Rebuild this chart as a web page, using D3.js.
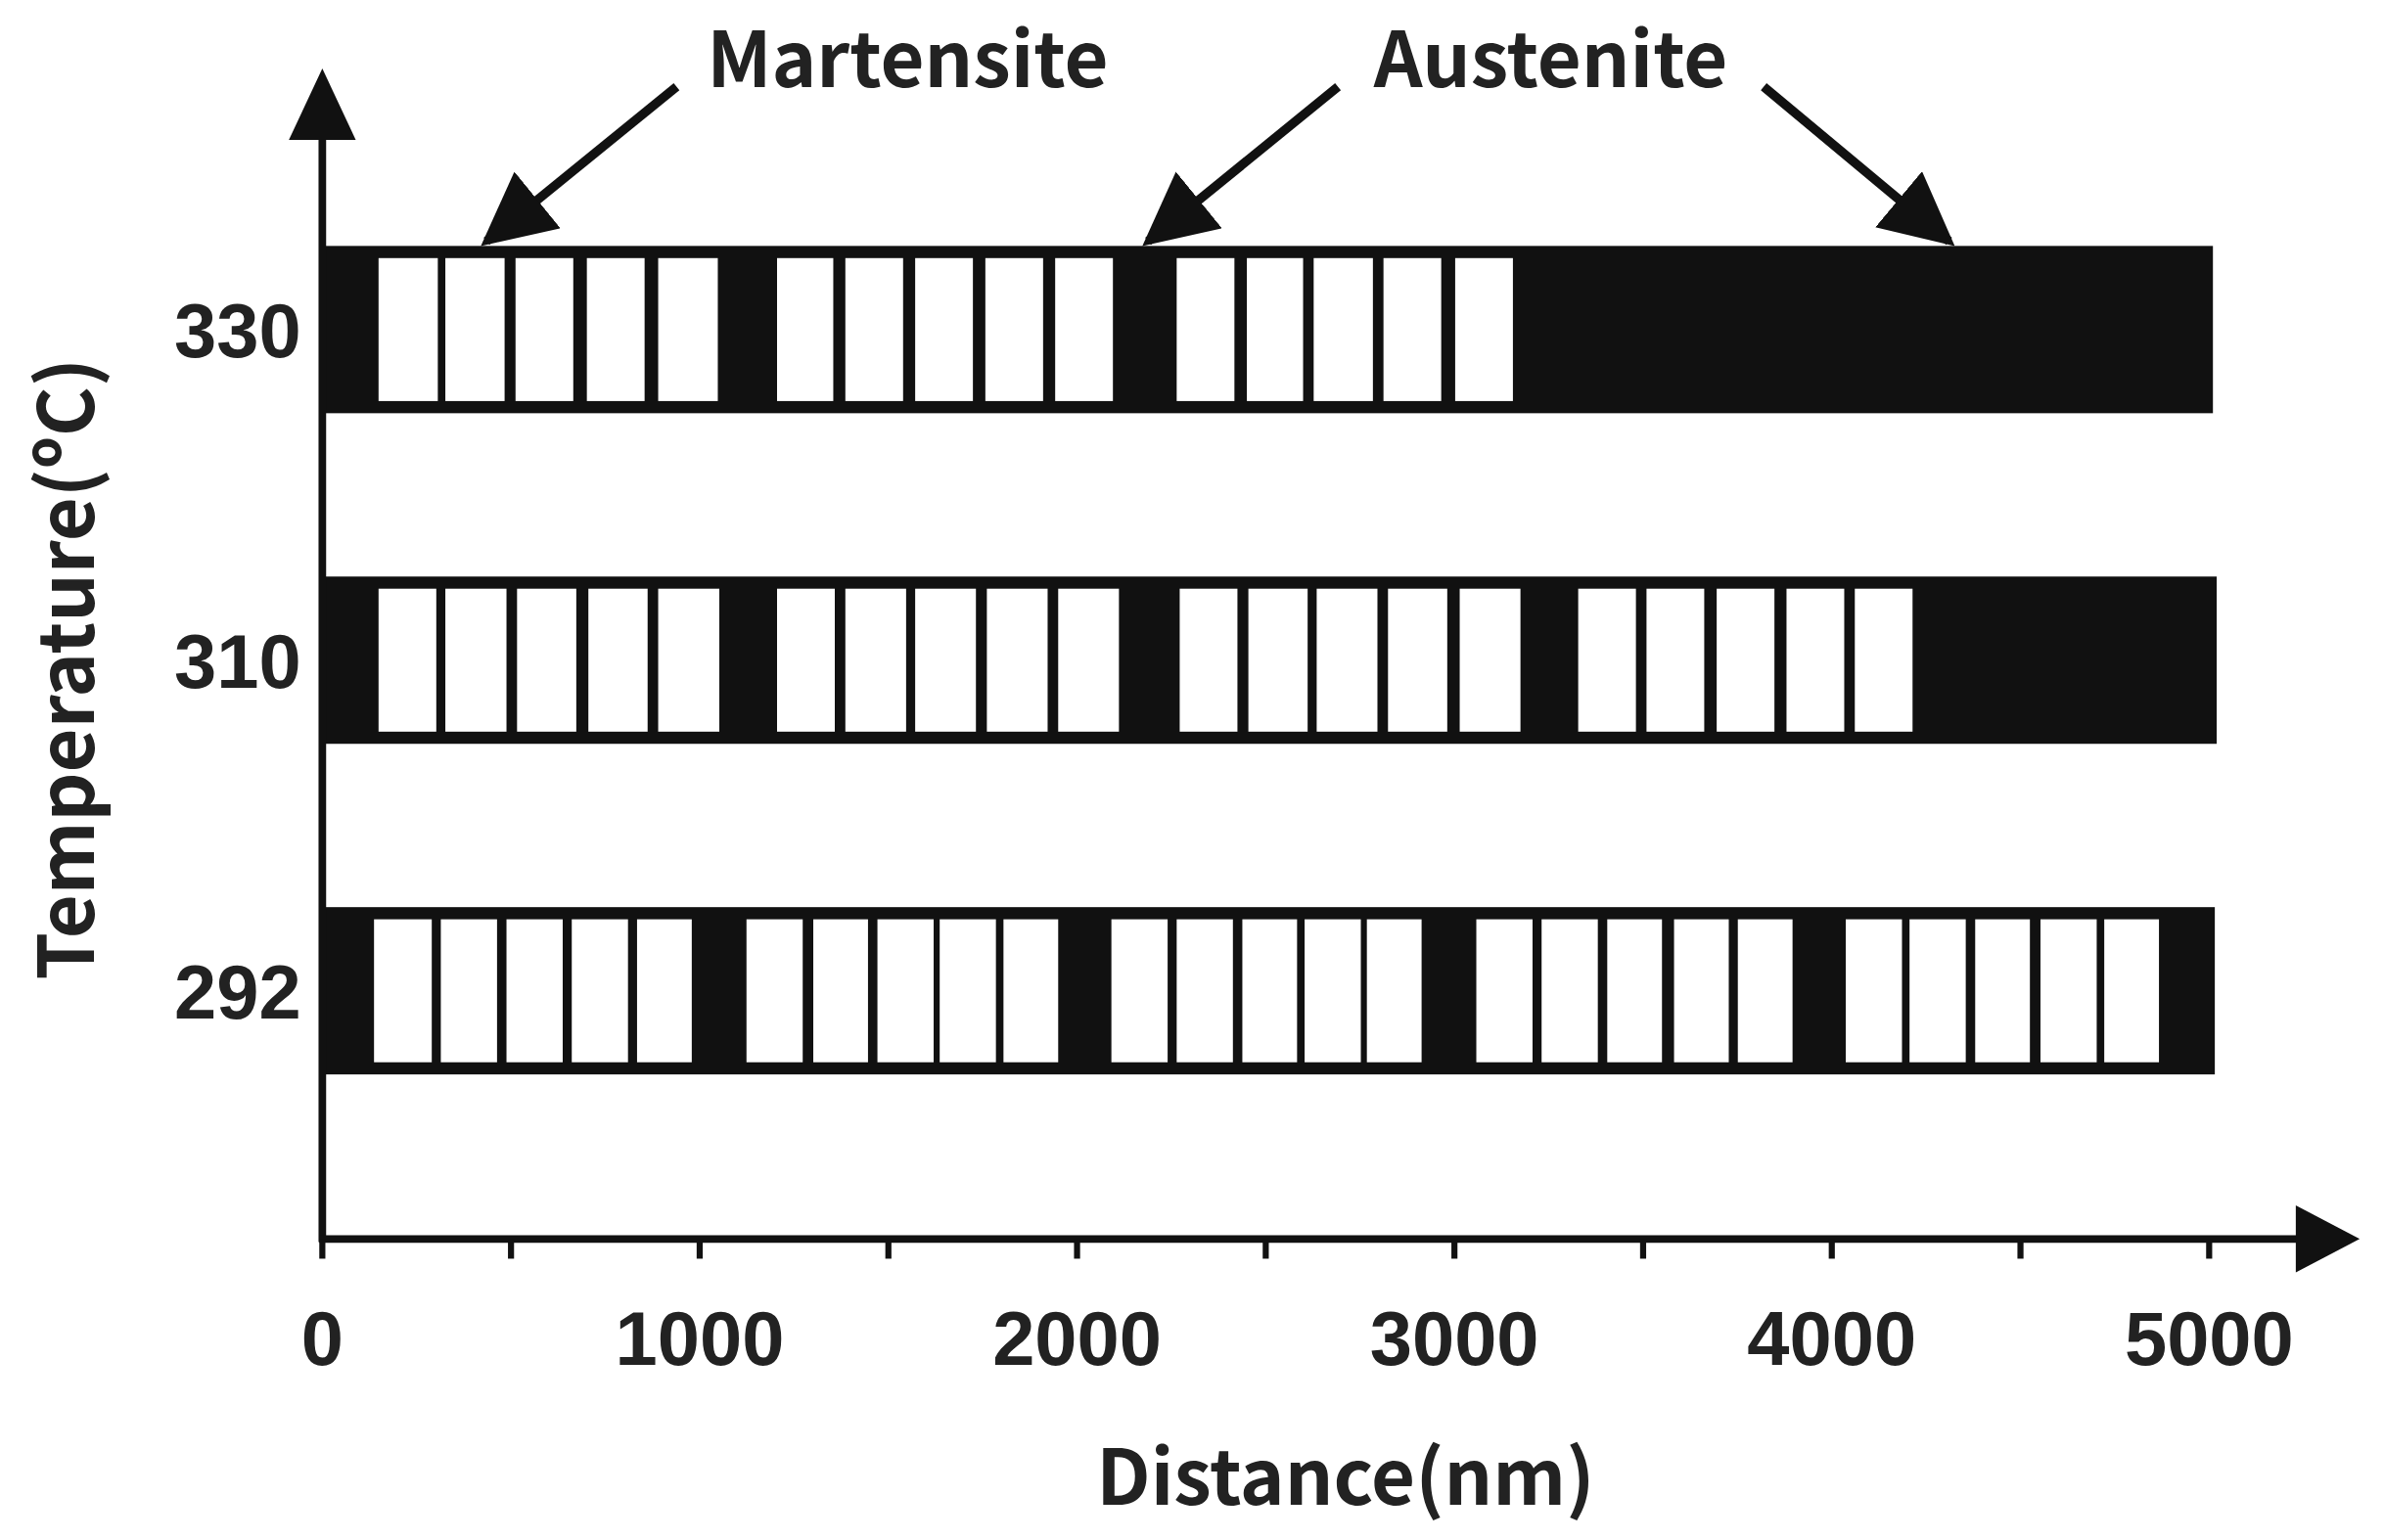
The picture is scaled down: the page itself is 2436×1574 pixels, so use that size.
<!DOCTYPE html>
<html>
<head>
<meta charset="utf-8">
<script src="https://cdn.jsdelivr.net/npm/d3@7"></script>
<style>
  html, body { margin: 0; padding: 0; background: #fff; }
  svg { display: block; }
</style>
</head>
<body>
<svg id="chart" width="2436" height="1574" viewBox="0 0 1568 1013"></svg>
<script>
// temperature rows, top to bottom
const temperatures = ['330', '310', '292']
// end of each dark bar (nm)
const barEnds = [5010, 5020, 5015]
// white (martensite) cells per row, [start, end] in nm
const cells330 = [
  [149, 306], [326, 483], [512, 665], [701, 854], [890, 1048],
  [1205, 1354], [1386, 1539], [1571, 1724], [1757, 1910], [1942, 2095],
  [2264, 2417], [2450, 2599], [2627, 2784], [2812, 2965], [3002, 3155]
]
const cells310 = [
  [149, 302], [326, 488], [516, 673], [705, 862], [890, 1052],
  [1205, 1358], [1386, 1547], [1571, 1732], [1761, 1922], [1950, 2111],
  [2272, 2425], [2454, 2611], [2635, 2796], [2824, 2981], [3014, 3175],
  [3328, 3481], [3509, 3662], [3695, 3848], [3880, 4033], [4061, 4214]
]
const cells292 = [
  [137, 290], [314, 463], [488, 637], [661, 810], [834, 979],
  [1124, 1273], [1301, 1446], [1471, 1620], [1636, 1785], [1805, 1950],
  [2091, 2240], [2264, 2413], [2438, 2583], [2603, 2752], [2768, 2913],
  [3058, 3207], [3231, 3380], [3405, 3550], [3582, 3727], [3751, 3896],
  [4037, 4186], [4206, 4355], [4380, 4525], [4553, 4702], [4722, 4867]
]
const cellRows = [cells330, cells310, cells292]
const xTicks = [0, 1000, 2000, 3000, 4000, 5000]
const xMinorTicks = [500, 1500, 2500, 3500, 4500]
// annotation labels and the x (nm) their arrows point at
const annotations = [
  { label: 'Martensite', from: [445, 57], to: 435 },
  { label: 'Austenite', from: [880, 57], to: 2188 },
  { label: 'Austenite', from: [1160, 57], to: 4311 }
]

const svg = d3.select('#chart')
const x = d3.scaleLinear().domain([0, 5000]).range([212, 1453])
const y = d3.scaleBand().domain(temperatures).range([108, 760.5]).paddingInner(0.494).paddingOuter(0.247)
const axisY = 815
const numFont = '"Liberation Sans", Arial, sans-serif'
const titleFont = '"Noto Sans CJK SC", "Noto Sans", sans-serif'

// dark bars
svg.selectAll('.bar')
  .data(temperatures)
  .join('rect')
  .attr('x', x(0))
  .attr('y', d => y(d))
  .attr('width', (d, i) => x(barEnds[i]) - x(0))
  .attr('height', y.bandwidth())
  .attr('fill', '#111')

// white cells
temperatures.forEach((t, i) => {
  svg.selectAll('.cell' + t)
    .data(cellRows[i])
    .join('rect')
    .attr('x', d => x(d[0]))
    .attr('y', y(t) + 8)
    .attr('width', d => x(d[1]) - x(d[0]))
    .attr('height', y.bandwidth() - 16)
    .attr('fill', '#fff')
})

// axes lines
svg.append('line').attr('x1', x(0)).attr('x2', x(0)).attr('y1', 80).attr('y2', axisY + 2)
  .attr('stroke', '#111').attr('stroke-width', 5)
svg.append('line').attr('x1', x(0) - 2).attr('x2', 1520).attr('y1', axisY).attr('y2', axisY)
  .attr('stroke', '#111').attr('stroke-width', 5)
svg.append('path').attr('d', `M${x(0)},45 L${x(0) - 22},92 L${x(0) + 22},92 Z`).attr('fill', '#111')
svg.append('path').attr('d', `M1552,${axisY} L1510,${axisY - 22} L1510,${axisY + 22} Z`).attr('fill', '#111')

// ticks
svg.selectAll('.tick')
  .data(xTicks.concat(xMinorTicks))
  .join('line')
  .attr('x1', d => x(d)).attr('x2', d => x(d))
  .attr('y1', axisY).attr('y2', axisY + 13)
  .attr('stroke', '#111').attr('stroke-width', 4)

svg.selectAll('.xlabel')
  .data(xTicks)
  .join('text')
  .attr('x', d => x(d))
  .attr('y', 898)
  .attr('text-anchor', 'middle')
  .attr('font-family', numFont)
  .attr('font-weight', 'bold')
  .attr('font-size', 50)
  .attr('fill', '#222')
  .text(d => d)

svg.selectAll('.ylabel')
  .data(temperatures)
  .join('text')
  .attr('x', 198)
  .attr('y', d => y(d) + y.bandwidth() / 2 + 18)
  .attr('text-anchor', 'end')
  .attr('font-family', numFont)
  .attr('font-weight', 'bold')
  .attr('font-size', 50)
  .attr('fill', '#222')
  .text(d => d)

// axis titles
svg.append('text')
  .attr('x', 885).attr('y', 990)
  .attr('text-anchor', 'middle')
  .attr('font-family', titleFont).attr('font-weight', 'bold').attr('font-size', 50)
  .attr('fill', '#222')
  .text('Distance(nm)')

svg.append('text')
  .attr('transform', 'translate(62,440) rotate(-90)')
  .attr('text-anchor', 'middle')
  .attr('font-family', titleFont).attr('font-weight', 'bold').attr('font-size', 50)
  .attr('fill', '#222')
  .text('Temperature(ºC)')

// annotations
svg.append('defs').append('marker')
  .attr('id', 'head')
  .attr('viewBox', '0 0 10 10')
  .attr('refX', 9).attr('refY', 5)
  .attr('markerWidth', 8).attr('markerHeight', 8)
  .attr('markerUnits', 'userSpaceOnUse')
  .attr('orient', 'auto')
  .append('path').attr('d', 'M0,0 L10,5 L0,10 Z').attr('fill', '#111')
d3.select('#head').attr('markerWidth', 48).attr('markerHeight', 48)

const topBar = y(temperatures[0])
svg.selectAll('.arrow')
  .data(annotations)
  .join('line')
  .attr('x1', d => d.from[0]).attr('y1', d => d.from[1])
  .attr('x2', d => x(d.to)).attr('y2', topBar - 3)
  .attr('stroke', '#111').attr('stroke-width', 6)
  .attr('marker-end', 'url(#head)')

svg.append('text').attr('x', 597).attr('y', 57).attr('text-anchor', 'middle')
  .attr('font-family', titleFont).attr('font-weight', 'bold').attr('font-size', 50).attr('fill', '#222')
  .text(annotations[0].label)
svg.append('text').attr('x', 1020).attr('y', 57).attr('text-anchor', 'middle')
  .attr('font-family', titleFont).attr('font-weight', 'bold').attr('font-size', 50).attr('fill', '#222')
  .text(annotations[1].label)
</script>
</body>
</html>
